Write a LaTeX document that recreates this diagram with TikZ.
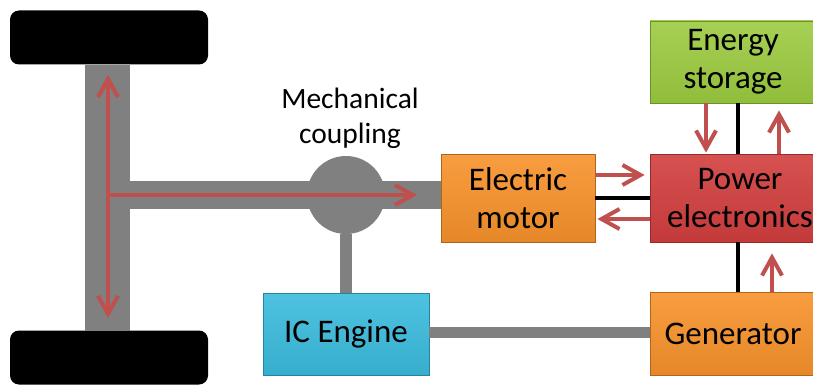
\documentclass[tikz,border=0pt]{standalone}
\usepackage{fontspec}
\setmainfont{Carlito}
\usepackage{tikz}
\usetikzlibrary{arrows.meta,positioning,calc}
\usepackage{xcolor}
\definecolor{motororange}{HTML}{F7922B}
\definecolor{pered}{HTML}{D23E3E}
\definecolor{storagegreen}{HTML}{9CCB40}
\definecolor{engineblue}{HTML}{3BBBDD}
\definecolor{shaftgray}{HTML}{808080}
\definecolor{flowred}{HTML}{C0504D}

\tikzset{
  block/.style={draw=#1!70!black, line width=0.8pt, top color=#1!90!white, bottom color=#1!93!black,
    font=\fontsize{33}{38}\selectfont, align=center, inner sep=0pt},
  wheel/.style={fill=black, rounded corners=9pt, minimum width=198pt, minimum height=54pt, inner sep=0pt},
  flow/.style={draw=flowred, line width=4pt, -{Straight Barb[length=18pt,width=20pt]}},
  wire/.style={draw=black, line width=4pt},
  shaft/.style={draw=shaftgray}
}

\begin{document}
\begin{tikzpicture}[x=1pt,y=-1pt]
  \useasboundingbox (0,0) rectangle (813,385);

  % Wheels and axle
  \node[wheel] (wheeltop) at (109,37.5) {};
  \node[wheel] (wheelbot) at (109,357.5) {};
  \fill[shaftgray] (85,65) rectangle (130,331);
  \fill[shaftgray] (130,181) rectangle (441,209);

  % Mechanical coupling
  \node[circle, fill=shaftgray, minimum size=78pt, inner sep=0pt] (coupling) at (346,195) {};
  \node[font=\fontsize{29.5}{35}\selectfont, align=center] (couplinglabel) at (350,118) {Mechanical\\coupling};

  % Blocks
  \node[block=motororange, minimum width=154pt, minimum height=88pt] (motor) at (518,198) {Electric\\motor};
  \node[block=pered, minimum width=180pt, minimum height=88pt] (pe) at (740,198) {Power\\electronics};
  \node[block=storagegreen, minimum width=166pt, minimum height=82pt] (storage) at (733,62) {Energy\\storage};
  \node[block=motororange, minimum width=166pt, minimum height=83pt] (generator) at (733,333.5) {Generator};
  \node[block=engineblue, minimum width=166pt, minimum height=82pt] (engine) at (346,334) {IC Engine};

  % Mechanical links
  \draw[shaft, line width=12pt] (coupling.south) -- (engine.north);
  \draw[shaft, line width=11pt] ([yshift=2pt]engine.east) -- ([yshift=2pt]engine.east -| generator.west);

  % Electrical links
  \draw[wire] (motor.east) -- (pe.west);
  \draw[wire] ([xshift=5pt]storage.south) -- ([xshift=5pt]storage.south |- pe.north);
  \draw[wire] ([xshift=5pt]generator.north) -- ([xshift=5pt]generator.north |- pe.south);

  % Power flow
  \coordinate (axletop) at (108,75);
  \coordinate (axlebot) at (108,318);
  \coordinate (axlemid) at (108,195);
  \coordinate (shaftend) at (417,195);
  \draw[flow, {Straight Barb[length=18pt,width=20pt]}-{Straight Barb[length=18pt,width=20pt]}] (axletop) -- (axlebot);
  \draw[flow] (axlemid) -- (shaftend);
  \draw[flow, shorten >=5pt] ([yshift=23pt]motor.east) -- ([yshift=23pt]motor.east -| pe.west);
  \draw[flow, shorten >=2pt] ([yshift=-21pt]pe.west) -- ([yshift=-21pt]pe.west -| motor.east);
  \draw[flow, shorten >=1pt] ([xshift=-27pt]storage.south) -- ([xshift=-27pt]storage.south |- pe.north);
  \draw[flow, shorten >=7pt] ([xshift=39pt]pe.north) -- ([xshift=39pt]pe.north |- storage.south);
  \draw[flow, shorten >=11pt] ([xshift=39pt]generator.north) -- ([xshift=39pt]generator.north |- pe.south);
\end{tikzpicture}
\end{document}
